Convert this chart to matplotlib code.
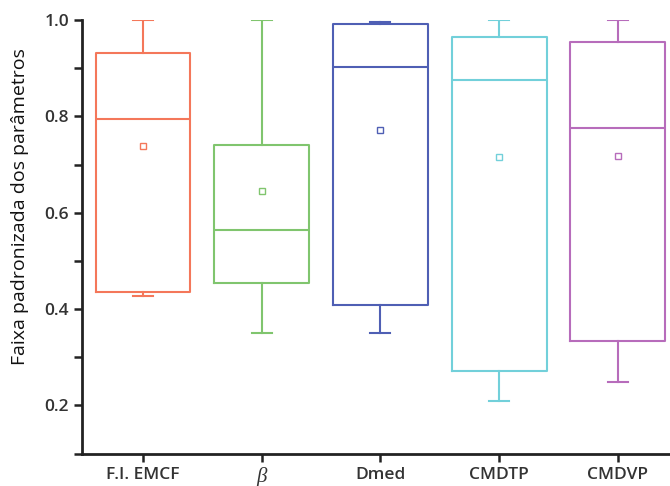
import matplotlib
matplotlib.use('Agg')
import matplotlib.pyplot as plt
from matplotlib.ticker import MultipleLocator

# valores
labels = ['F.I. EMCF', 'β', 'Dmed', 'CMDTP', 'CMDVP']
whislo = [0.428, 0.350, 0.350, 0.210, 0.248]
q1 = [0.435, 0.455, 0.408, 0.272, 0.333]
med = [0.794, 0.564, 0.903, 0.875, 0.775]
q3 = [0.931, 0.740, 0.991, 0.964, 0.954]
whishi = [1.0, 1.0, 0.996, 1.0, 1.0]
mean = [0.739, 0.645, 0.772, 0.716, 0.718]
colors = ['#f4775a', '#80c56e', '#4f5fb4', '#72d0da', '#b76cbb']

plt.rcParams['font.family'] = ['Open Sans', 'DejaVu Sans']

fig = plt.figure(figsize=(6.7, 4.86), dpi=100)
ax = fig.add_axes([0.1224, 0.0665, 0.8776, 0.8925])

for i in range(len(labels)):
    st = [dict(label=labels[i], whislo=whislo[i], q1=q1[i], med=med[i],
               q3=q3[i], whishi=whishi[i], mean=mean[i], fliers=[])]
    c = colors[i]
    ax.bxp(st, positions=[i + 1], widths=0.8, showmeans=True,
           patch_artist=False, capwidths=0.17,
           boxprops=dict(color=c, lw=1.5),
           medianprops=dict(color=c, lw=1.5),
           whiskerprops=dict(color=c, lw=1.5),
           capprops=dict(color=c, lw=1.5),
           meanprops=dict(marker='s', markersize=4, markerfacecolor='white',
                          markeredgecolor=c, markeredgewidth=1.0))

ax.set_xlim(0.486, 5.44)
ax.set_ylim(0.1, 1.0)
ax.set_xticks(range(1, 6))
ax.set_xticklabels(labels)
ax.yaxis.set_minor_locator(MultipleLocator(0.1))
ax.set_yticks([0.2, 0.4, 0.6, 0.8, 1.0])
ax.set_yticklabels(['0.2', '0.4', '0.6', '0.8', '1.0'])

for s in ['top', 'right']:
    ax.spines[s].set_visible(False)
for s in ['left', 'bottom']:
    ax.spines[s].set_linewidth(2.0)
    ax.spines[s].set_color('#222222')

ax.tick_params(axis='both', which='major', length=6, width=1.8, color='#222222',
               labelsize=12.5, labelcolor='#333333')
ax.tick_params(axis='y', which='minor', length=6, width=1.8, color='#222222')
for t in ax.get_yticklabels() + ax.get_xticklabels():
    t.set_fontweight('semibold')
beta = ax.get_xticklabels()[1]
beta.set_fontfamily('Liberation Serif')
beta.set_fontstyle('italic')
beta.set_fontweight('normal')
beta.set_fontsize(15)

ax.set_ylabel('Faixa padronizada dos parâmetros', fontsize=14, color='#111111')
ax.yaxis.set_label_coords(-0.09, 0.57)

fig.savefig('out.png', dpi=100)
